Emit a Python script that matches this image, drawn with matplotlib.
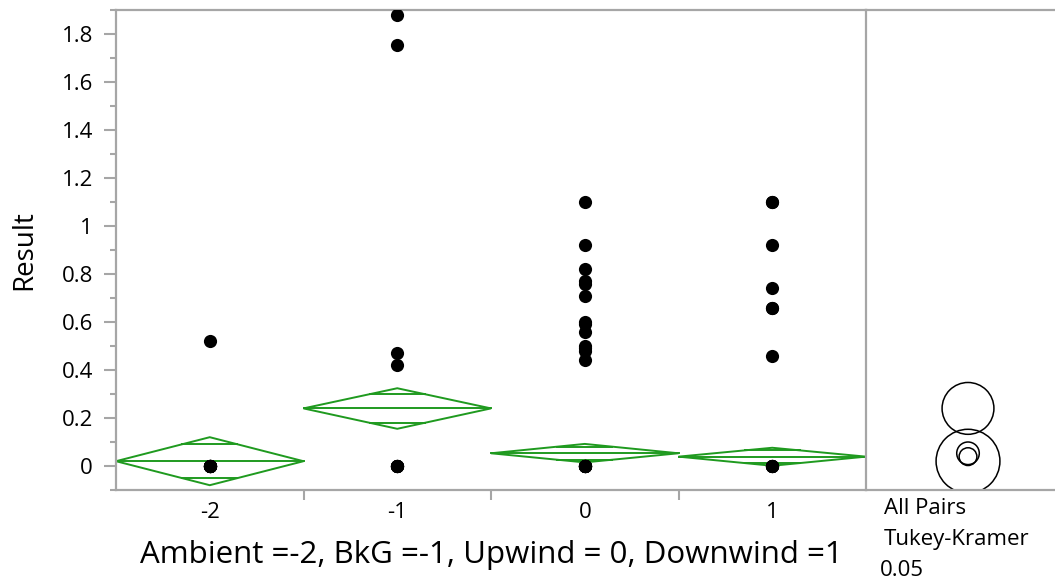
import matplotlib.pyplot as plt
from matplotlib.patches import Polygon, Circle
from matplotlib.ticker import MultipleLocator, FixedLocator, NullFormatter
import numpy as np

plt.rcParams['font.family'] = ['Open Sans', 'DejaVu Sans']

# groups: Ambient =-2, BkG =-1, Upwind = 0, Downwind =1
groups = [-2, -1, 0, 1]
group_labels = ['-2', '-1', '0', '1']

# raw results per group (non-detects plotted at 0)
results = {
    -2: [0.52, 0, 0, 0, 0, 0, 0, 0, 0, 0],
    -1: [1.88, 1.755, 0.47, 0.42, 0, 0, 0, 0, 0, 0],
    0: [1.10, 0.92, 0.82, 0.77, 0.76, 0.71, 0.60, 0.59, 0.56, 0.50, 0.49,
        0.48, 0.44, 0, 0, 0, 0, 0, 0, 0, 0],
    1: [1.10, 1.10, 0.92, 0.74, 0.66, 0.66, 0.46, 0, 0, 0, 0, 0],
}

# means diamonds (mean, lower 95%, upper 95%)
means = [0.020, 0.240, 0.053, 0.039]
ci_low = [-0.080, 0.155, 0.015, 0.001]
ci_high = [0.120, 0.324, 0.092, 0.076]

# comparison circles (Tukey-Kramer, 0.05): radius in Result units
circle_radius = [0.133, 0.108, 0.047, 0.037]

green = '#1f9a1f'
gray = '#a6a6a6'

fig = plt.figure(figsize=(10.55, 5.81), dpi=100)
W, H = 1055, 581
ax = fig.add_axes([116 / W, (H - 490) / H, (866 - 116) / W, 480 / H])
ax2 = fig.add_axes([866 / W, (H - 490) / H, (W - 866) / W, 480 / H])

ymin, ymax = -0.1, 1.9
ax.set_xlim(-2.5, 1.5)
ax.set_ylim(ymin, ymax)

# points
for g in groups:
    vals = results[g]
    ax.scatter([g] * len(vals), vals, s=90, color='black', zorder=3,
               linewidths=0)

# mean diamonds with overlap marks
for g, m, lo, hi in zip(groups, means, ci_low, ci_high):
    left, right = g - 0.5, g + 0.5
    diamond = Polygon([(left, m), (g, hi), (right, m), (g, lo)], closed=True,
                      fill=False, edgecolor=green, linewidth=1.4, zorder=2)
    ax.add_patch(diamond)
    ax.plot([left, right], [m, m], color=green, linewidth=1.4, zorder=2)
    for edge in (hi, lo):
        d = (edge - m) / np.sqrt(2)
        frac = 1 - abs(d) / abs(edge - m)
        ax.plot([g - 0.5 * frac, g + 0.5 * frac], [m + d, m + d],
                color=green, linewidth=1.4, zorder=2)

# axes styling
for side in ['left', 'bottom', 'top']:
    ax.spines[side].set_color(gray)
    ax.spines[side].set_linewidth(1.6)
ax.spines['right'].set_visible(False)

ax.set_yticks([0, 0.2, 0.4, 0.6, 0.8, 1.0, 1.2, 1.4, 1.6, 1.8])
ax.set_yticklabels(['0', '0.2', '0.4', '0.6', '0.8', '1', '1.2', '1.4', '1.6', '1.8'])
ax.yaxis.set_minor_locator(MultipleLocator(0.1))
ax.tick_params(axis='y', which='major', length=8.5, width=1.5, color=gray,
               labelsize=16, pad=8)
ax.tick_params(axis='y', which='minor', length=4.3, width=1.5, color=gray)

ax.set_xticks(groups)
ax.set_xticklabels(group_labels)
ax.tick_params(axis='x', which='major', length=0, labelsize=16, pad=9)
ax.xaxis.set_minor_locator(FixedLocator([-1.5, -0.5, 0.5]))
ax.xaxis.set_minor_formatter(NullFormatter())
ax.tick_params(axis='x', which='minor', length=7, width=1.5, color=gray)

ax.set_ylabel('Result', fontsize=20, labelpad=17)
ax.set_xlabel('Ambient =-2, BkG =-1, Upwind = 0, Downwind =1', fontsize=22.5,
              labelpad=12)

# comparison circles panel
px_per_unit = 480 / (ymax - ymin)
ax2.set_ylim(ymin, ymax)
ax2.set_xlim(0, (W - 866) / px_per_unit)
cx = (968 - 866) / px_per_unit
for m, r in zip(means, circle_radius):
    ax2.add_patch(Circle((cx, m), r, fill=False, edgecolor='black',
                         linewidth=1.1))
ax2.set_xticks([])
ax2.set_yticks([])
for side in ['left', 'bottom', 'top']:
    ax2.spines[side].set_color(gray)
    ax2.spines[side].set_linewidth(1.6)
ax2.spines['right'].set_visible(False)

fig.text(884 / W, 1 - 508 / H, 'All Pairs', fontsize=16, va='center', ha='left')
fig.text(884 / W, 1 - 539 / H, 'Tukey-Kramer', fontsize=16, va='center', ha='left')
fig.text(880 / W, 1 - 571 / H, '0.05', fontsize=16, va='center', ha='left')

fig.savefig('out.png', dpi=100)
